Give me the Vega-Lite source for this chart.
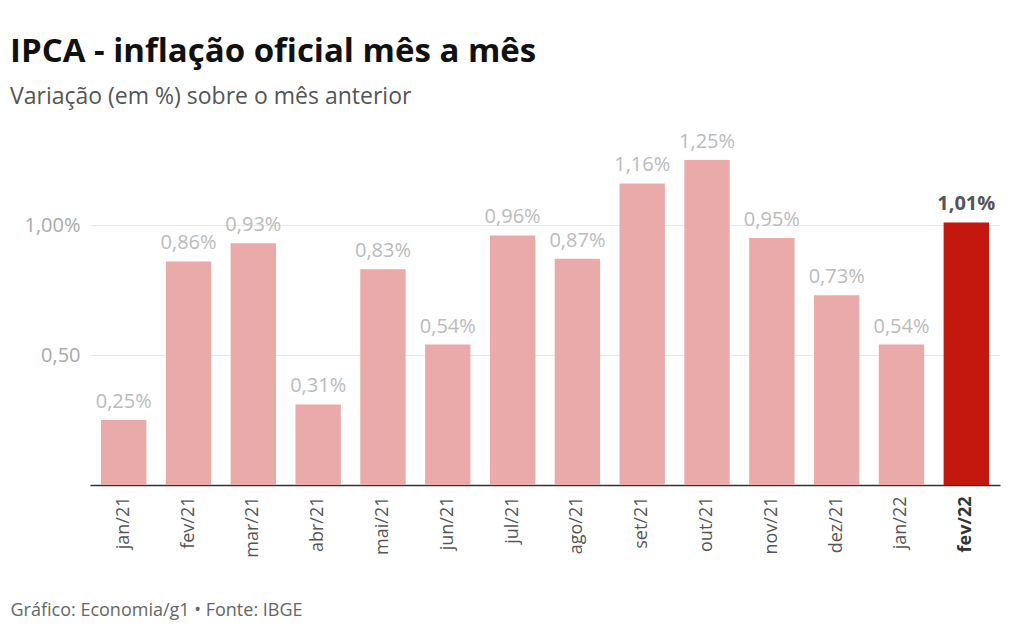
{
  "$schema": "https://vega.github.io/schema/vega-lite/v6.json",
  "width": 910,
  "height": 338,
  "autosize": {"type": "none"},
  "padding": {"left": 90, "top": 147, "right": 11, "bottom": 152},
  "background": "white",
  "config": {"view": {"stroke": null}, "font": "Open Sans"},
  "title": {
    "text": "IPCA - inflação oficial mês a mês",
    "subtitle": "Variação (em %) sobre o mês anterior",
    "anchor": "start",
    "frame": "group",
    "dx": -80,
    "offset": 23,
    "font": "Open Sans",
    "fontSize": 33,
    "fontWeight": "bold",
    "color": "#111111",
    "subtitleFont": "Open Sans",
    "subtitleFontSize": 23,
    "subtitleColor": "#555555",
    "subtitlePadding": 17
  },
  "data": {
    "values": [
      {"mes": "jan/21", "v": 0.25},
      {"mes": "fev/21", "v": 0.86},
      {"mes": "mar/21", "v": 0.93},
      {"mes": "abr/21", "v": 0.31},
      {"mes": "mai/21", "v": 0.83},
      {"mes": "jun/21", "v": 0.54},
      {"mes": "jul/21", "v": 0.96},
      {"mes": "ago/21", "v": 0.87},
      {"mes": "set/21", "v": 1.16},
      {"mes": "out/21", "v": 1.25},
      {"mes": "nov/21", "v": 0.95},
      {"mes": "dez/21", "v": 0.73},
      {"mes": "jan/22", "v": 0.54},
      {"mes": "fev/22", "v": 1.01}
    ]
  },
  "transform": [
    {"calculate": "replace(format(datum.v, '.2f'), '.', ',') + '%'", "as": "rotulo"}
  ],
  "encoding": {
    "x": {
      "field": "mes",
      "type": "nominal",
      "sort": null,
      "scale": {"paddingInner": 0.3, "paddingOuter": 0.17},
      "axis": {
        "title": "Gráfico: Economia/g1 • Fonte: IBGE",
        "titleX": -80,
        "titleY": 125,
        "titleAnchor": null,
        "titleAlign": "left",
        "titleBaseline": "middle",
        "titleFont": "Open Sans",
        "titleFontSize": 18,
        "titleFontWeight": "normal",
        "titleColor": "#666666",
        "labelAngle": -90,
        "labelFontSize": 18,
        "labelColor": {"condition": {"test": "datum.value == 'fev/22'", "value": "#333333"}, "value": "#555555"},
        "labelFontWeight": {"condition": {"test": "datum.value == 'fev/22'", "value": "bold"}, "value": "normal"},
        "labelPadding": 11,
        "ticks": false,
        "domainColor": "#333333",
        "domainWidth": 1.5
      }
    },
    "y": {
      "field": "v",
      "type": "quantitative",
      "scale": {"domain": [0, 1.3], "nice": false},
      "axis": {
        "title": null,
        "values": [0.5, 1.0],
        "labelExpr": "replace(format(datum.value, '.2f'), '.', ',') + (datum.value == 1 ? '%' : '')",
        "labelFontSize": 20,
        "labelColor": "#aaaaaa",
        "labelPadding": 10,
        "ticks": false,
        "domain": false,
        "gridColor": "#e8e8e8",
        "gridWidth": 1
      }
    }
  },
  "layer": [
    {
      "mark": {"type": "bar"},
      "encoding": {
        "color": {
          "condition": {"test": "datum.mes == 'fev/22'", "value": "#c4170d"},
          "value": "#e9aaa9"
        }
      }
    },
    {
      "transform": [{"filter": "datum.mes != 'fev/22'"}],
      "mark": {"type": "text", "baseline": "alphabetic", "dy": -12, "fontSize": 20, "color": "#bbbbbb"},
      "encoding": {"text": {"field": "rotulo"}}
    },
    {
      "transform": [{"filter": "datum.mes == 'fev/22'"}],
      "mark": {"type": "text", "baseline": "alphabetic", "dy": -12, "fontSize": 20, "fontWeight": "bold", "color": "#555555"},
      "encoding": {"text": {"field": "rotulo"}}
    }
  ]
}
